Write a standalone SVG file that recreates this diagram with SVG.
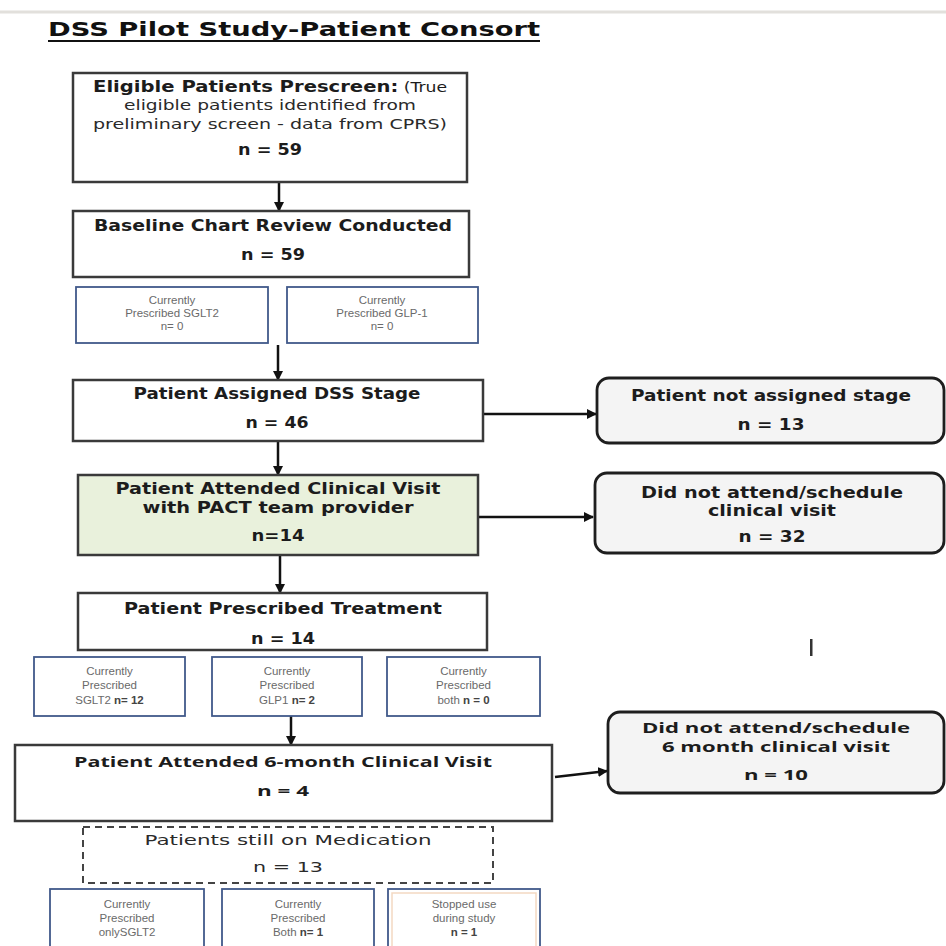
<svg xmlns="http://www.w3.org/2000/svg" width="946" height="946" viewBox="0 0 946 946">
<style>
.bg{fill:#ffffff}
.box{fill:#ffffff;stroke:#3a3a3a;stroke-width:2.5}
.green{fill:#e9f1dc;stroke:#3a3a3a;stroke-width:2.5}
.rbox{fill:#f4f4f4;stroke:#1e1e1e;stroke-width:2.8}
.sbox{fill:#ffffff;stroke:#41598a;stroke-width:1.8}
.dash{fill:#ffffff;stroke:#444;stroke-width:2;stroke-dasharray:7 5}
.b{font-family:"DejaVu Sans",Verdana,sans-serif;font-weight:bold;font-size:16.5px;fill:#1c1c1c;text-anchor:middle}
.r{font-family:"DejaVu Sans",Verdana,sans-serif;font-size:14.5px;fill:#2a2a2a;text-anchor:middle}
.c{font-family:"Open Sans",Arial,sans-serif;font-weight:bold;font-size:15px;fill:#1c1c1c;text-anchor:middle}
.s{font-family:"Liberation Sans",Arial,sans-serif;font-size:11.5px;fill:#6a6a6a;text-anchor:middle}
.sb{font-weight:bold;fill:#444}
.con{stroke:#111;stroke-width:2.5;fill:none}
</style>
<defs>
<marker id="ah" markerUnits="userSpaceOnUse" markerWidth="10" markerHeight="10" viewBox="0 0 10 10" refX="9" refY="5" orient="auto">
<path d="M0,0 L10,5 L0,10 z" fill="#111"/>
</marker>
</defs>
<rect class="bg" x="0" y="0" width="946" height="946"/>
<line x1="0" y1="12" x2="946" y2="12" stroke="#e2e0dc" stroke-width="3"/>

<g id="title">
<text x="294" y="36" font-family="'DejaVu Sans',Verdana,sans-serif" font-weight="bold" font-size="20" fill="#111" text-anchor="middle" textLength="492" lengthAdjust="spacingAndGlyphs">DSS Pilot Study-Patient Consort</text>
<line x1="48" y1="41" x2="540" y2="41" stroke="#111" stroke-width="2"/>
</g>

<g id="connectors">
<line class="con" x1="279" y1="182" x2="279" y2="211" marker-end="url(#ah)"/>
<line class="con" x1="278" y1="345" x2="278" y2="380" marker-end="url(#ah)"/>
<line class="con" x1="278" y1="442" x2="278" y2="475" marker-end="url(#ah)"/>
<line class="con" x1="280" y1="556" x2="280" y2="593" marker-end="url(#ah)"/>
<line class="con" x1="291" y1="716" x2="291" y2="745" marker-end="url(#ah)"/>
<line class="con" x1="483" y1="414" x2="596" y2="414" marker-end="url(#ah)"/>
<line class="con" x1="478" y1="517" x2="593" y2="517" marker-end="url(#ah)"/>
<line class="con" x1="555" y1="777" x2="607" y2="771" marker-end="url(#ah)"/>
</g>

<g id="prescreen">
<rect class="box" x="73" y="73" width="394" height="109"/>
<text x="270" y="92" class="b" textLength="354" lengthAdjust="spacingAndGlyphs"><tspan>Eligible Patients Prescreen:</tspan><tspan font-weight="normal" font-size="14.5"> (True</tspan></text>
<text x="270" y="110" class="r" textLength="292" lengthAdjust="spacingAndGlyphs">eligible patients identified from</text>
<text x="270" y="129" class="r" textLength="354" lengthAdjust="spacingAndGlyphs">preliminary  screen - data from CPRS)</text>
<text x="270" y="155" class="b" textLength="64" lengthAdjust="spacingAndGlyphs">n = 59</text>
</g>

<g id="baseline">
<rect class="box" x="73" y="211" width="396" height="66"/>
<text x="273" y="231" class="b" textLength="358" lengthAdjust="spacingAndGlyphs">Baseline Chart Review Conducted</text>
<text x="273" y="260" class="b" textLength="64" lengthAdjust="spacingAndGlyphs">n = 59</text>
</g>

<g id="baseline-sglt2">
<rect class="sbox" x="76" y="287" width="192" height="56"/>
<text x="172" y="304" class="s">Currently</text>
<text x="172" y="317" class="s">Prescribed SGLT2</text>
<text x="172" y="330" class="s">n= 0</text>
</g>
<g id="baseline-glp1">
<rect class="sbox" x="287" y="287" width="191" height="56"/>
<text x="382" y="304" class="s">Currently</text>
<text x="382" y="317" class="s">Prescribed GLP-1</text>
<text x="382" y="330" class="s">n= 0</text>
</g>

<g id="assigned">
<rect class="box" x="73" y="380" width="410" height="61"/>
<text x="277" y="399" class="b" textLength="287" lengthAdjust="spacingAndGlyphs">Patient Assigned  DSS Stage</text>
<text x="277" y="428" class="b" textLength="63" lengthAdjust="spacingAndGlyphs">n = 46</text>
</g>

<g id="not-assigned">
<rect class="rbox" x="597" y="378" width="347" height="65" rx="12"/>
<text x="771" y="401" class="b" textLength="280" lengthAdjust="spacingAndGlyphs">Patient not assigned  stage</text>
<text x="771" y="430" class="b" textLength="67" lengthAdjust="spacingAndGlyphs">n = 13</text>
</g>

<g id="attended">
<rect class="green" x="78" y="475" width="400" height="80"/>
<text x="278" y="494" class="b" textLength="325" lengthAdjust="spacingAndGlyphs">Patient Attended Clinical Visit</text>
<text x="278" y="513" class="b" textLength="271" lengthAdjust="spacingAndGlyphs">with PACT team provider</text>
<text x="278" y="541" class="b" textLength="53" lengthAdjust="spacingAndGlyphs">n=14</text>
</g>

<g id="not-attended">
<rect class="rbox" x="595" y="473" width="349" height="80" rx="12"/>
<text x="772" y="498" class="b" textLength="262" lengthAdjust="spacingAndGlyphs">Did not attend/schedule</text>
<text x="772" y="516" class="b" textLength="128" lengthAdjust="spacingAndGlyphs">clinical visit</text>
<text x="772" y="542" class="b" textLength="67" lengthAdjust="spacingAndGlyphs">n = 32</text>
</g>

<g id="prescribed">
<rect class="box" x="78" y="593" width="409" height="57"/>
<text x="283" y="614" class="b" textLength="318" lengthAdjust="spacingAndGlyphs">Patient Prescribed Treatment</text>
<text x="283" y="644" class="b" textLength="64" lengthAdjust="spacingAndGlyphs">n = 14</text>
</g>

<g id="rx-sglt2">
<rect class="sbox" x="34" y="657" width="151" height="59"/>
<text x="109.5" y="675" class="s">Currently</text>
<text x="109.5" y="689" class="s">Prescribed</text>
<text x="109.5" y="704" class="s">SGLT2 <tspan class="sb">n= 12</tspan></text>
</g>
<g id="rx-glp1">
<rect class="sbox" x="212" y="657" width="150" height="59"/>
<text x="287" y="675" class="s">Currently</text>
<text x="287" y="689" class="s">Prescribed</text>
<text x="287" y="704" class="s">GLP1 <tspan class="sb">n= 2</tspan></text>
</g>
<g id="rx-both">
<rect class="sbox" x="387" y="657" width="153" height="59"/>
<text x="463.5" y="675" class="s">Currently</text>
<text x="463.5" y="689" class="s">Prescribed</text>
<text x="463.5" y="704" class="s">both <tspan class="sb">n = 0</tspan></text>
</g>

<rect x="810" y="639" width="2.5" height="17" fill="#333"/>

<g id="six-month">
<rect class="box" x="15" y="745" width="537" height="76"/>
<text x="283" y="767" class="c" font-size="16" textLength="418" lengthAdjust="spacingAndGlyphs">Patient Attended 6-month Clinical Visit</text>
<text x="283" y="796" class="c" font-weight="normal" textLength="52" lengthAdjust="spacingAndGlyphs">n = 4</text>
</g>

<g id="not-six-month">
<rect class="rbox" x="608" y="712" width="336" height="81" rx="12"/>
<text x="776" y="733" class="c" textLength="268" lengthAdjust="spacingAndGlyphs">Did not attend/schedule</text>
<text x="776" y="752" class="c" textLength="228" lengthAdjust="spacingAndGlyphs">6 month clinical visit</text>
<text x="776" y="780" class="c" font-weight="normal" textLength="64" lengthAdjust="spacingAndGlyphs">n = 10</text>
</g>

<g id="still-on">
<rect class="dash" x="83" y="827" width="410" height="56"/>
<text x="288" y="845" class="r" font-size="16" textLength="287" lengthAdjust="spacingAndGlyphs">Patients still on Medication</text>
<text x="288" y="872" class="r" font-size="16" textLength="70" lengthAdjust="spacingAndGlyphs">n = 13</text>
</g>

<g id="only-sglt2">
<rect class="sbox" x="50" y="889" width="154" height="60"/>
<text x="127" y="908" class="s">Currently</text>
<text x="127" y="922" class="s">Prescribed</text>
<text x="127" y="936" class="s">onlySGLT2</text>
</g>
<g id="both">
<rect class="sbox" x="222" y="889" width="152" height="60"/>
<text x="298" y="908" class="s">Currently</text>
<text x="298" y="922" class="s">Prescribed</text>
<text x="298" y="936" class="s">Both <tspan class="sb">n= 1</tspan></text>
</g>
<g id="stopped">
<rect class="sbox" x="388" y="889" width="152" height="60" fill="#fdf6ee"/>
<rect x="392" y="893" width="144" height="60" fill="none" stroke="#f3d9c2" stroke-width="1.5"/>
<text x="464" y="908" class="s">Stopped use</text>
<text x="464" y="922" class="s">during study</text>
<text x="464" y="936" class="s"><tspan class="sb">n = 1</tspan></text>
</g>
</svg>
